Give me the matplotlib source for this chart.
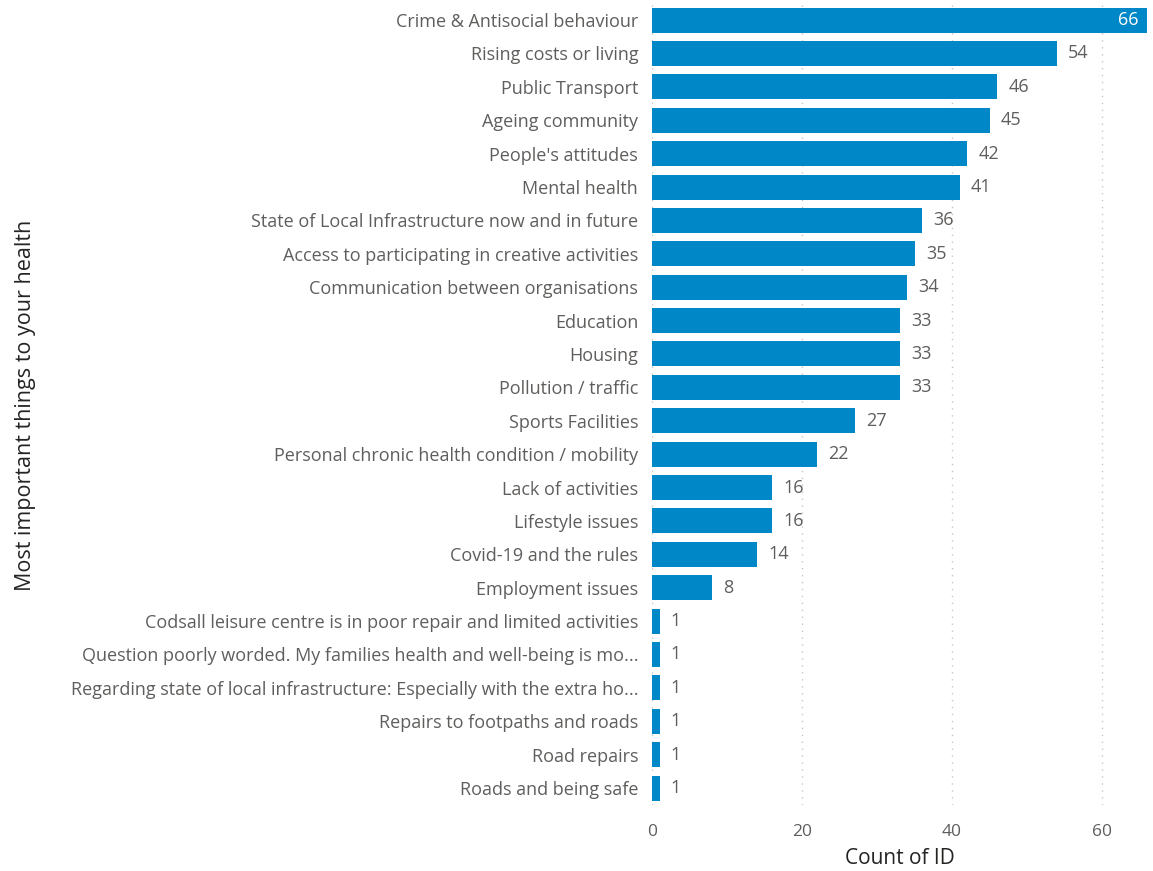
import matplotlib
matplotlib.use("Agg")
import matplotlib.pyplot as plt

# --- data ---
categories = [
    "Crime & Antisocial behaviour",
    "Rising costs or living",
    "Public Transport",
    "Ageing community",
    "People's attitudes",
    "Mental health",
    "State of Local Infrastructure now and in future",
    "Access to participating in creative activities",
    "Communication between organisations",
    "Education",
    "Housing",
    "Pollution / traffic",
    "Sports Facilities",
    "Personal chronic health condition / mobility",
    "Lack of activities",
    "Lifestyle issues",
    "Covid-19 and the rules",
    "Employment issues",
    "Codsall leisure centre is in poor repair and limited activities",
    "Question poorly worded. My families health and well-being is mo...",
    "Regarding state of local infrastructure: Especially with the extra ho...",
    "Repairs to footpaths and roads",
    "Road repairs",
    "Roads and being safe",
]
counts = [66, 54, 46, 45, 42, 41, 36, 35, 34, 33, 33, 33, 27, 22, 16, 16, 14, 8, 1, 1, 1, 1, 1, 1]
x_ticks = [0, 20, 40, 60]

BAR_COLOR = "#0087C8"
TEXT_GRAY = "#605E5C"
FONT = ["Open Sans", "DejaVu Sans"]

fig = plt.figure(figsize=(11.53, 8.71), dpi=100)
ax = fig.add_axes([0.5655, 0.0761, 0.4293, 0.920])

y = list(range(len(categories)))
ax.barh(y, counts, height=0.75, color=BAR_COLOR)
ax.set_ylim(len(categories) - 0.5, -0.5)
ax.set_xlim(0, 66)

ax.set_yticks(y)
ax.set_yticklabels(categories, fontsize=13, color=TEXT_GRAY, family=FONT)
ax.set_xticks(x_ticks)
ax.set_xticklabels([str(t) for t in x_ticks], fontsize=12.5, color=TEXT_GRAY, family=FONT)
ax.tick_params(axis="y", length=0, pad=10)
ax.tick_params(axis="x", length=0, pad=14)

ax.grid(axis="x", color="#C8C6C4", linestyle=(0, (1, 4)), linewidth=1)
ax.set_axisbelow(True)
for s in ax.spines.values():
    s.set_visible(False)

# value labels
for yi, v in zip(y, counts):
    if v >= 60:
        ax.text(v - 1.2, yi, str(v), ha="right", va="center", color="white",
                fontsize=13, family=FONT)
    else:
        ax.text(v + 1.5, yi, str(v), ha="left", va="center", color=TEXT_GRAY,
                fontsize=13, family=FONT)

ax.set_xlabel("Count of ID", fontsize=15, color="#252423", family=FONT, labelpad=6)
fig.text(0.022, 0.535, "Most important things to your health", rotation=90,
         ha="center", va="center", fontsize=15.5, color="#252423", family=FONT)

fig.savefig("out.png", dpi=100)
